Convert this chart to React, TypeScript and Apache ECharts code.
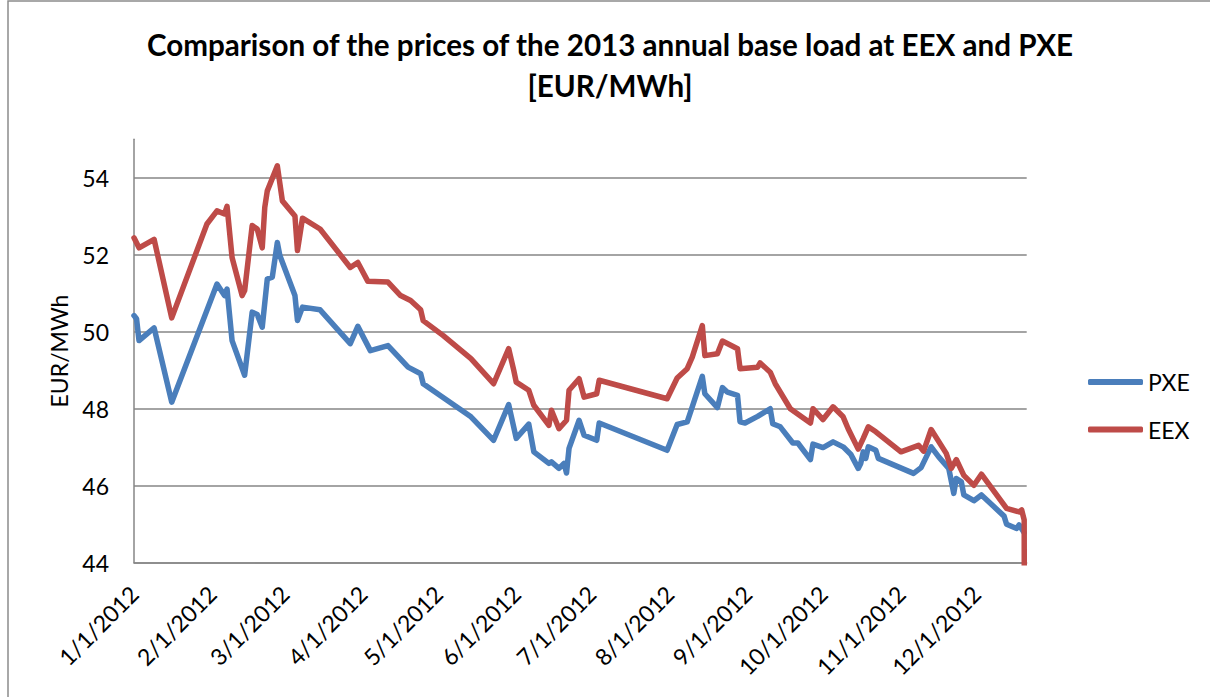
import React, { useEffect, useRef } from "react";
import * as echarts from "echarts";

const titleText = "Comparison of the prices of the 2013 annual base load at EEX and PXE\n[EUR/MWh]";
const yAxisName = "EUR/MWh";
const seriesNames = ["PXE", "EEX"];

const monthTicks = [
  "2012-01-01", "2012-02-01", "2012-03-01", "2012-04-01", "2012-05-01", "2012-06-01",
  "2012-07-01", "2012-08-01", "2012-09-01", "2012-10-01", "2012-11-01", "2012-12-01",
];
const axisStart = "2012-01-01";
const axisEnd = "2012-12-21";

const pxeDates = [
  "2012-01-01", "2012-01-02", "2012-01-03", "2012-01-09", "2012-01-16", "2012-02-03", "2012-02-06",
  "2012-02-07", "2012-02-09", "2012-02-14", "2012-02-17", "2012-02-19", "2012-02-21", "2012-02-23",
  "2012-02-25", "2012-02-27", "2012-02-28", "2012-03-05", "2012-03-06", "2012-03-08", "2012-03-15",
  "2012-03-27", "2012-03-30", "2012-04-04", "2012-04-11", "2012-04-19", "2012-04-24", "2012-04-25",
  "2012-05-14", "2012-05-23", "2012-05-29", "2012-06-01", "2012-06-06", "2012-06-08", "2012-06-14",
  "2012-06-15", "2012-06-18", "2012-06-20", "2012-06-21", "2012-06-22", "2012-06-26", "2012-06-28",
  "2012-07-03", "2012-07-04", "2012-07-31", "2012-08-04", "2012-08-08", "2012-08-10", "2012-08-14",
  "2012-08-15", "2012-08-20", "2012-08-22", "2012-08-24", "2012-08-28", "2012-08-29", "2012-08-31",
  "2012-09-05", "2012-09-10", "2012-09-11", "2012-09-14", "2012-09-19", "2012-09-21", "2012-09-26",
  "2012-09-27", "2012-10-01", "2012-10-05", "2012-10-09", "2012-10-12", "2012-10-15", "2012-10-16",
  "2012-10-17", "2012-10-18", "2012-10-19", "2012-10-22", "2012-10-23", "2012-11-06", "2012-11-09",
  "2012-11-13", "2012-11-16", "2012-11-20", "2012-11-22", "2012-11-23", "2012-11-25", "2012-11-26",
  "2012-11-30", "2012-12-03", "2012-12-12", "2012-12-13", "2012-12-17", "2012-12-18", "2012-12-20",
];
const pxeValues = [
  50.42, 50.34, 49.77, 50.10, 48.17, 51.24, 50.94,
  51.11, 49.77, 48.87, 50.51, 50.45, 50.12, 51.37,
  51.42, 52.32, 51.98, 50.94, 50.29, 50.64, 50.57,
  49.69, 50.14, 49.51, 49.64, 49.08, 48.91, 48.65,
  47.79, 47.18, 48.11, 47.23, 47.60, 46.88, 46.58,
  46.62, 46.45, 46.58, 46.33, 46.97, 47.70, 47.31,
  47.18, 47.63, 46.92, 47.59, 47.66, 48.05, 48.84,
  48.39, 48.03, 48.55, 48.43, 48.35, 47.66, 47.63,
  47.80, 48.00, 47.61, 47.53, 47.11, 47.11, 46.68,
  47.08, 46.99, 47.14, 47.01, 46.82, 46.45, 46.58,
  46.88, 46.71, 47.01, 46.92, 46.71, 46.32, 46.47,
  47.01, 46.75, 46.45, 45.80, 46.19, 46.10, 45.76,
  45.61, 45.76, 45.21, 45.00, 44.89, 44.98, 44.78,
];

const eexDates = [
  "2012-01-01", "2012-01-03", "2012-01-09", "2012-01-16", "2012-01-30", "2012-02-03", "2012-02-06",
  "2012-02-07", "2012-02-09", "2012-02-13", "2012-02-14", "2012-02-17", "2012-02-19", "2012-02-21",
  "2012-02-22", "2012-02-23", "2012-02-27", "2012-02-29", "2012-03-05", "2012-03-06", "2012-03-08",
  "2012-03-15", "2012-03-27", "2012-03-30", "2012-04-03", "2012-04-11", "2012-04-16", "2012-04-20",
  "2012-04-24", "2012-04-25", "2012-05-03", "2012-05-14", "2012-05-23", "2012-05-29", "2012-05-31",
  "2012-06-01", "2012-06-06", "2012-06-08", "2012-06-14", "2012-06-15", "2012-06-18", "2012-06-21",
  "2012-06-22", "2012-06-26", "2012-06-28", "2012-07-03", "2012-07-04", "2012-07-31", "2012-08-04",
  "2012-08-08", "2012-08-10", "2012-08-14", "2012-08-15", "2012-08-20", "2012-08-22", "2012-08-28",
  "2012-08-29", "2012-09-05", "2012-09-06", "2012-09-10", "2012-09-12", "2012-09-18", "2012-09-26",
  "2012-09-27", "2012-10-01", "2012-10-05", "2012-10-09", "2012-10-11", "2012-10-15", "2012-10-17",
  "2012-10-19", "2012-10-22", "2012-11-01", "2012-11-08", "2012-11-10", "2012-11-13", "2012-11-19",
  "2012-11-21", "2012-11-23", "2012-11-26", "2012-11-30", "2012-12-03", "2012-12-13", "2012-12-18",
  "2012-12-19", "2012-12-20", "2012-12-21",
];
const eexValues = [
  52.44, 52.18, 52.40, 50.36, 52.80, 53.14, 53.06,
  53.26, 51.93, 50.94, 51.07, 52.76, 52.67, 52.18,
  53.23, 53.66, 54.31, 53.40, 53.01, 52.11, 52.95,
  52.67, 51.67, 51.80, 51.31, 51.29, 50.94, 50.81,
  50.57, 50.29, 49.90, 49.30, 48.65, 49.56, 49.00,
  48.69, 48.48, 48.09, 47.57, 47.96, 47.48, 47.70,
  48.48, 48.78, 48.30, 48.39, 48.74, 48.26, 48.80,
  49.04, 49.34, 50.16, 49.38, 49.43, 49.76, 49.56,
  49.04, 49.08, 49.19, 48.95, 48.65, 48.00, 47.63,
  48.00, 47.72, 48.05, 47.79, 47.48, 46.95, 47.23,
  47.53, 47.40, 46.88, 47.05, 46.90, 47.46, 46.84,
  46.45, 46.68, 46.27, 46.01, 46.30, 45.41, 45.32,
  45.37, 45.11, 0,
];

const yMin = 44;
const yMax = 55;
const yInterval = 2;

function ts(s: string): number {
  const [y, m, d] = s.split("-").map(Number);
  return new Date(y, m - 1, d).getTime();
}

export default function App() {
  const ref = useRef<HTMLDivElement>(null);
  useEffect(() => {
    document.body.style.margin = "0";
    if (!ref.current) return;
    const chart = echarts.init(ref.current, undefined, { renderer: "svg" });
    const font = "Lato, 'Noto Sans', sans-serif";
    const grey = "#868686";
    chart.setOption({
      animation: false,
      backgroundColor: "#fff",
      title: {
        text: titleText,
        left: 610,
        textAlign: "center",
        top: 24,
        padding: 0,
        textStyle: { fontFamily: font, fontSize: 29.6, fontWeight: "bold", color: "#000", lineHeight: 41 },
      },
      legend: {
        data: seriesNames,
        orient: "vertical",
        left: 1088,
        top: 367,
        padding: 0,
        itemWidth: 55,
        itemHeight: 6,
        itemGap: 17.6,
        icon: "roundRect",
        textStyle: { fontFamily: font, fontSize: 23, color: "#000", lineHeight: 30 },
      },
      graphic: [
        {
          type: "rect",
          shape: { x: 8, y: 1, width: 1240, height: 740 },
          style: { fill: "none", stroke: "#8c8c8c", lineWidth: 1.5 },
          silent: true,
        },
      ],
      grid: { left: 134, right: 183.3, top: 139.3, bottom: 134.3, containLabel: false },
      xAxis: {
        type: "value",
        min: ts(axisStart),
        max: ts(axisEnd),
        axisLine: { show: true, lineStyle: { color: grey, width: 1.5 } },
        axisTick: { show: false },
        splitLine: { show: false },
        axisLabel: {
          customValues: monthTicks.map(ts),
          rotate: 45,
          margin: 27,
          fontFamily: font,
          fontSize: 23,
          color: "#000",
          hideOverlap: false,
          formatter: (v: number) => {
            const d = new Date(v);
            return `${d.getMonth() + 1}/${d.getDate()}/${d.getFullYear()}`;
          },
        },
      },
      yAxis: {
        type: "value",
        min: yMin,
        max: yMax,
        interval: yInterval,
        name: yAxisName,
        nameLocation: "middle",
        nameRotate: 90,
        nameGap: 64,
        nameTextStyle: { fontFamily: font, fontSize: 23, color: "#000" },
        axisLine: { show: true, lineStyle: { color: grey, width: 1.5 } },
        axisTick: { show: false },
        splitLine: { show: true, showMaxLine: false, lineStyle: { color: grey, width: 1.5 } },
        axisLabel: { showMaxLabel: false, margin: 25, fontFamily: font, fontSize: 23, color: "#000" },
      },
      series: [
        {
          name: seriesNames[0],
          type: "line",
          data: pxeDates.map((d, i) => [ts(d), pxeValues[i]]),
          symbol: "none",
          clip: true,
          color: "#4A7EBB",
          lineStyle: { width: 5.5, color: "#4A7EBB", join: "round", cap: "round" },
        },
        {
          name: seriesNames[1],
          type: "line",
          data: eexDates.map((d, i) => [ts(d), eexValues[i]]),
          symbol: "none",
          clip: true,
          color: "#BE4B48",
          lineStyle: { width: 5.5, color: "#BE4B48", join: "round", cap: "round" },
        },
      ],
    });
    return () => chart.dispose();
  }, []);
  return <div ref={ref} style={{ width: 1210, height: 697 }} />;
}
